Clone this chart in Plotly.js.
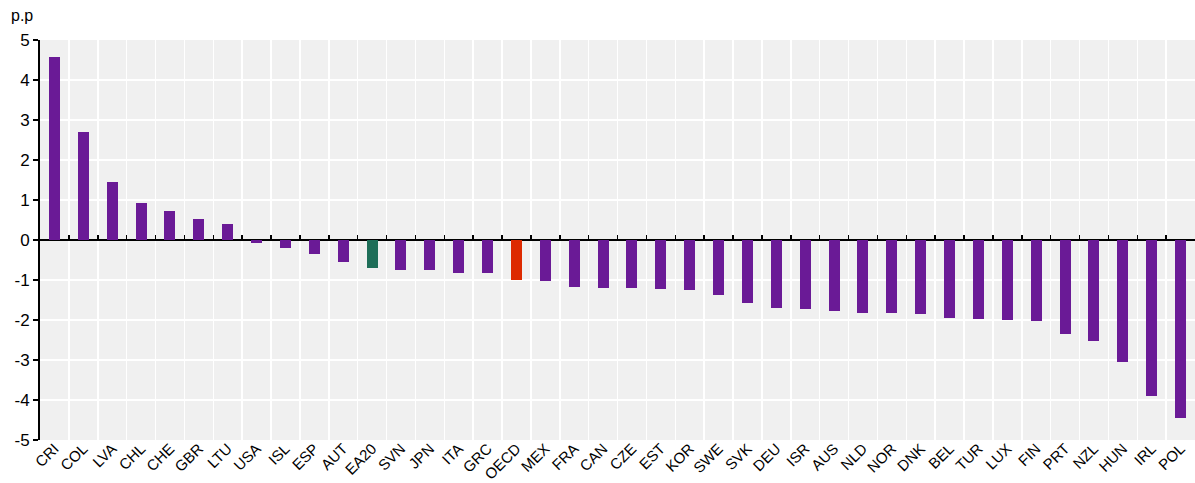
<!DOCTYPE html>
<html>
<head>
<meta charset="utf-8">
<script src="https://cdn.plot.ly/plotly-3.0.1.min.js"></script>
<style>
html,body{margin:0;padding:0;background:#fff;}
#chart{width:1195px;height:483px;}
</style>
</head>
<body>
<div id="chart"></div>
<script>
var categories = ["CRI","COL","LVA","CHL","CHE","GBR","LTU","USA","ISL","ESP","AUT","EA20","SVN","JPN","ITA","GRC","OECD","MEX","FRA","CAN","CZE","EST","KOR","SWE","SVK","DEU","ISR","AUS","NLD","NOR","DNK","BEL","TUR","LUX","FIN","PRT","NZL","HUN","IRL","POL"];
var values = [4.57,2.69,1.46,0.92,0.72,0.52,0.41,-0.07,-0.21,-0.34,-0.54,-0.69,-0.75,-0.76,-0.82,-0.82,-1.0,-1.02,-1.18,-1.19,-1.2,-1.22,-1.24,-1.37,-1.57,-1.71,-1.73,-1.77,-1.82,-1.82,-1.85,-1.95,-1.97,-2.0,-2.02,-2.35,-2.52,-3.04,-3.9,-4.44];
var yTicks = [-5,-4,-3,-2,-1,0,1,2,3,4,5];
var unitLabel = "p.p";

var PURPLE = "#6a1a96", GREEN = "#1e6e58", RED = "#dd2a00";
var colors = categories.map(function(c){
  return c === "EA20" ? GREEN : (c === "OECD" ? RED : PURPLE);
});

var traces = [
  {
    type: "bar",
    x: categories,
    y: values,
    marker: {color: colors, line: {width: 0}},
    width: 0.38,
    hoverinfo: "x+y",
    showlegend: false
  },
  {
    type: "scatter",
    mode: "none",
    x: categories,
    y: categories.map(function(){ return null; }),
    xaxis: "x2",
    hoverinfo: "skip",
    showlegend: false
  }
];

var fontFam = "Liberation Sans, Arial, sans-serif";
var n = categories.length;

var layout = {
  width: 1195,
  height: 483,
  margin: {l: 40, r: 0, t: 40, b: 43},
  paper_bgcolor: "#ffffff",
  plot_bgcolor: "#f0f0f0",
  font: {family: fontFam, color: "#000"},
  bargap: 0,
  xaxis: {
    type: "category",
    categoryorder: "array",
    categoryarray: categories,
    range: [-0.5, n - 0.5],
    tickson: "boundaries",
    showgrid: true,
    gridcolor: "#ffffff",
    gridwidth: 1.5,
    ticks: "",
    tickangle: -45,
    ticklabelstandoff: -4,
    tickfont: {size: 15, family: fontFam, color: "#000"},
    showline: false,
    zeroline: false,
    fixedrange: true
  },
  xaxis2: {
    type: "category",
    categoryorder: "array",
    categoryarray: categories,
    range: [-0.5, n - 0.5],
    overlaying: "x",
    anchor: "free",
    position: 0.5,
    side: "bottom",
    tickson: "boundaries",
    ticks: "inside",
    ticklen: 5,
    tickwidth: 1.5,
    tickcolor: "#000",
    showticklabels: false,
    showgrid: false,
    showline: false,
    zeroline: false,
    fixedrange: true
  },
  yaxis: {
    range: [-5, 5],
    tickvals: yTicks,
    ticktext: yTicks.map(String),
    ticks: "outside",
    ticklen: 5,
    tickwidth: 1.5,
    tickcolor: "#000",
    tickfont: {size: 17, family: fontFam, color: "#000"},
    showgrid: true,
    gridcolor: "#ffffff",
    gridwidth: 1.5,
    showline: true,
    linecolor: "#000",
    linewidth: 2,
    zeroline: true,
    zerolinecolor: "#000",
    zerolinewidth: 2,
    fixedrange: true
  },
  annotations: [
    {
      text: unitLabel,
      xref: "paper", yref: "paper",
      x: -0.027, y: 1.0,
      xanchor: "left", yanchor: "bottom",
      yshift: 14,
      showarrow: false,
      font: {size: 16, family: fontFam, color: "#000"}
    }
  ]
};

Plotly.newPlot("chart", traces, layout, {displayModeBar: false, staticPlot: true});
</script>
</body>
</html>
